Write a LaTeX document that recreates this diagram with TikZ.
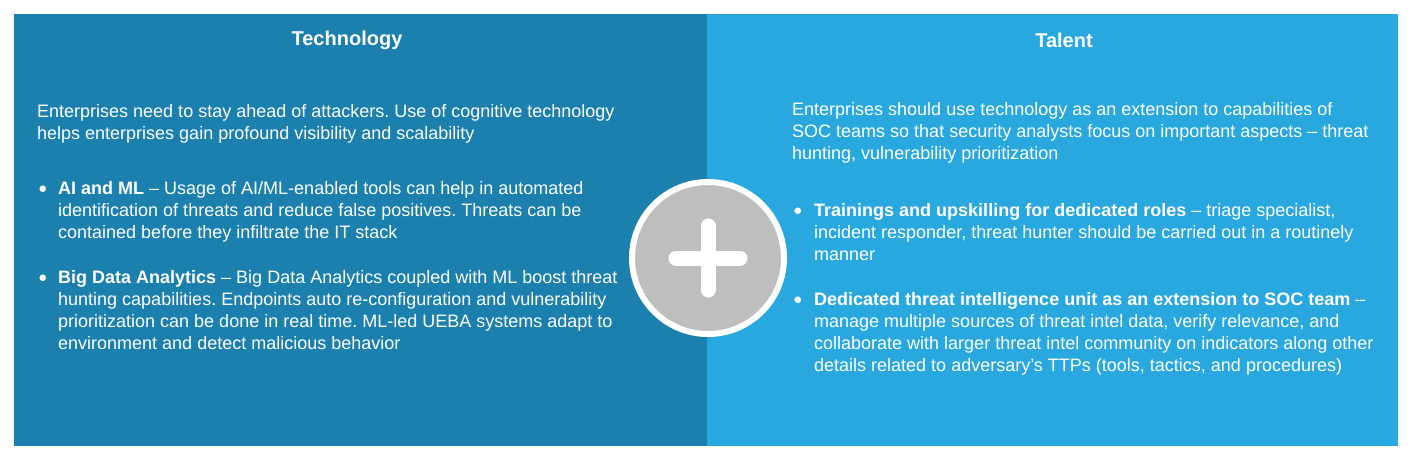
\documentclass[tikz,border=0pt]{standalone}
\usepackage{fontspec}
\setmainfont{Liberation Sans}
\begin{document}
\frenchspacing
\begin{tikzpicture}[x=1pt,y=-1pt,
  txt/.style={text=white,anchor=north west,align=left,inner sep=0pt,font=\frenchspacing\fontsize{18}{22}\selectfont},
  ttl/.style={text=white,font=\fontsize{20}{22}\selectfont\bfseries,inner sep=0pt},
  bul/.style={text=white,inner sep=0pt,font=\fontsize{15}{22}\selectfont}]
\definecolor{leftc}{HTML}{1B80AD}
\definecolor{rightc}{HTML}{29A8E0}
\definecolor{circc}{HTML}{BEBEBE}
\useasboundingbox (0,0) rectangle (1414,460);
\fill[white] (0,0) rectangle (1414,460);
\fill[leftc] (14,14) rectangle (707,446);
\fill[rightc] (707,14) rectangle (1398,446);
\node[ttl] (t1) at (347,40) {Technology};
\node[ttl] (t2) at (1064,40) {Talent};
\node[txt] (p1) at (37,104) {Enterprises need to stay ahead of attackers. Use of cognitive technology\\helps enterprises gain profound visibility and scalability};
\node[bul] (b1) at (43,190) {●};
\node[txt] (p2) at (58,181) {\textbf{AI and ML} – Usage of AI/ML-enabled tools can help in automated\\identification of threats and reduce false positives. Threats can be\\contained before they infiltrate the IT stack};
\node[bul] (b2) at (43,279) {●};
\node[txt] (p3) at (58,270) {\textbf{Big Data Analytics} – Big Data Analytics coupled with ML boost threat\\hunting capabilities. Endpoints auto re-configuration and vulnerability\\prioritization can be done in real time. ML-led UEBA systems adapt to\\environment and detect malicious behavior};
\node[txt] (q1) at (792,102) {Enterprises should use technology as an extension to capabilities of\\SOC teams so that security analysts focus on important aspects – threat\\hunting, vulnerability prioritization};
\node[bul] (c1) at (798,212) {●};
\node[txt] (q2) at (814,203) {\textbf{Trainings and upskilling for dedicated roles} – triage specialist,\\incident responder, threat hunter should be carried out in a routinely\\manner};
\node[bul] (c2) at (798,301) {●};
\node[txt] (q3) at (814,292) {\textbf{Dedicated threat intelligence unit as an extension to SOC team} –\\manage multiple sources of threat intel data, verify relevance, and\\collaborate with larger threat intel community on indicators along other\\details related to adversary’s TTPs (tools, tactics, and procedures)};
\node[circle,fill=circc,draw=white,line width=6pt,minimum size=152pt] (plus) at (708,258) {};
\draw[white,line width=15pt,line cap=round] ([xshift=-32pt]plus.center) -- ([xshift=32pt]plus.center);
\draw[white,line width=15pt,line cap=round] ([yshift=-32pt]plus.center) -- ([yshift=32pt]plus.center);
\end{tikzpicture}
\end{document}
